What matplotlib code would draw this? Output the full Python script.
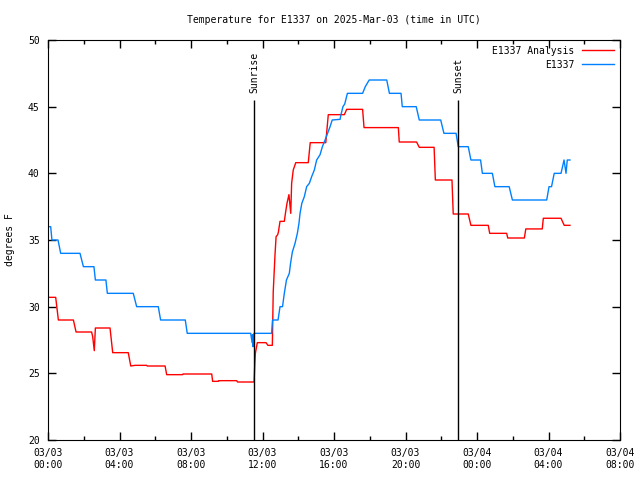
import numpy as np
import matplotlib
matplotlib.use("Agg")
import matplotlib.pyplot as plt
import matplotlib.dates as mdates

# hours after 2025-03-03 00:00 UTC, temperature in F
blue_hours = [0, 0.15, 0.22, 0.56, 0.71, 1.79, 1.98, 2.57, 2.65, 3.24, 3.32, 4.77, 4.96,
              6.17, 6.3, 7.68, 7.79, 11.34, 11.42, 11.44, 11.47, 11.49, 11.52, 12.51,
              12.56, 12.87, 12.98, 13.12, 13.22, 13.34, 13.5, 13.57, 13.67, 13.82, 13.95,
              14.04, 14.1, 14.2, 14.34, 14.47, 14.62, 14.75, 14.9, 15.03, 15.22, 15.35,
              15.5, 15.64, 15.78, 15.9, 16.34, 16.39, 16.5, 16.6, 16.75, 17.6, 17.75,
              17.97, 18.95, 19.1, 19.75, 19.82, 20.6, 20.77, 21.97, 22.15, 22.83, 22.95,
              23.51, 23.66, 24.2, 24.3, 24.86, 25.0, 25.8, 25.98, 27.9, 28.03, 28.17,
              28.32, 28.7, 28.87, 28.98, 29.05, 29.2]
blue_temps = [36, 36, 35, 35, 34, 34, 33, 33, 32, 32, 31, 31, 30,
              30, 29, 29, 28, 28, 27.3, 27.9, 27.0, 27.6, 28, 28,
              29, 29, 30, 30, 31, 32, 32.5, 33.25, 34.1, 34.75, 35.5,
              36.25, 37, 37.75, 38.25, 39, 39.25, 39.75, 40.25, 41, 41.4, 42,
              42.5, 43, 43.5, 44, 44.05, 44.4, 45, 45.2, 46, 46, 46.5,
              47, 47, 46, 46, 45, 45, 44, 44, 43, 43, 42,
              42, 41, 41, 40, 40, 39, 39, 38, 38, 39, 39,
              40, 40, 41, 40, 41, 41]

red_hours = [0, 0.43, 0.58, 1.42, 1.57, 2.44, 2.5, 2.59, 2.65, 3.47, 3.62, 4.49, 4.63,
             4.87, 5.52, 5.55, 6.55, 6.64, 7.53, 7.55, 9.16, 9.21, 9.53, 9.55, 10.56,
             10.6, 11.53, 11.57, 11.6, 11.71, 12.2, 12.3, 12.55, 12.6, 12.7, 12.76,
             12.85, 12.89, 12.98, 13.22, 13.3, 13.37, 13.48, 13.58, 13.63, 13.72, 13.86,
             14.56, 14.67, 15.54, 15.68, 16.58, 16.71, 17.6, 17.68, 19.6, 19.65, 20.62,
             20.77, 21.6, 21.67, 22.6, 22.67, 23.51, 23.66, 24.63, 24.71, 25.66, 25.72,
             26.65, 26.73, 27.65, 27.71, 28.7, 28.88, 29.2]
red_temps = [30.7, 30.7, 29.0, 29.0, 28.1, 28.1, 27.75, 26.7, 28.4, 28.4, 26.55, 26.55, 25.55,
             25.6, 25.6, 25.55, 25.55, 24.9, 24.9, 24.95, 24.95, 24.4, 24.4, 24.45, 24.45,
             24.35, 24.35, 25.75, 26.5, 27.3, 27.3, 27.1, 27.1, 31.1, 33.9, 35.25,
             35.4, 35.6, 36.4, 36.4, 37.15, 37.75, 38.4, 37.0, 39.25, 40.25, 40.8,
             40.8, 42.3, 42.3, 44.4, 44.4, 44.8, 44.8, 43.43, 43.43, 42.35, 42.35,
             41.95, 41.95, 39.5, 39.5, 36.95, 36.95, 36.1, 36.1, 35.5, 35.5, 35.15,
             35.15, 35.83, 35.83, 36.63, 36.63, 36.1, 36.1]

sun_hours = [11.52, 22.94]
sun_labels = ["Sunrise", "Sunset"]

start = np.datetime64("2025-03-03T00:00:00")


def to_time(hours):
    secs = np.round(np.array(hours) * 3600).astype("int64")
    return start + secs.astype("timedelta64[s]")


plt.rcParams["font.family"] = "DejaVu Sans Mono"
plt.rcParams["font.size"] = 7

fig = plt.figure(figsize=(6.4, 4.8), dpi=100)
ax = fig.add_axes([48 / 640, 40 / 480, 572 / 640, 400 / 480])

ax.plot(to_time(red_hours), red_temps, color="#ff0000", lw=1, label="E1337 Analysis")
ax.plot(to_time(blue_hours), blue_temps, color="#0080ff", lw=1, label="E1337")

for h, lab in zip(sun_hours, sun_labels):
    t = to_time([h])[0]
    ax.vlines(t, 20, 45.5, color="black", lw=1)
    ax.text(t, 46.0, lab, rotation=90, ha="center", va="bottom")

ax.set_xlim(start, np.datetime64("2025-03-04T08:00:00"))
ax.set_ylim(20, 50)
ax.set_yticks(np.arange(20, 51, 5))
ax.xaxis.set_major_locator(mdates.HourLocator(byhour=range(0, 24, 4)))
ax.xaxis.set_minor_locator(mdates.HourLocator(byhour=range(0, 24, 2)))
ax.xaxis.set_major_formatter(mdates.DateFormatter("%m/%d\n%H:%M"))
ax.tick_params(which="both", direction="in", top=True, right=True, width=1)
ax.tick_params(which="major", length=6, pad=6)
ax.tick_params(which="minor", length=3)

ax.set_title("Temperature for E1337 on 2025-Mar-03 (time in UTC)", fontsize=7, pad=12)
ax.set_ylabel("degrees F")
ax.yaxis.set_label_coords(-0.057, 0.5)

ax.legend(loc="upper right", markerfirst=False, frameon=False, handlelength=3.3,
          borderaxespad=0.2, labelspacing=0.4, handletextpad=0.8)

fig.savefig("out.png", dpi=100)
